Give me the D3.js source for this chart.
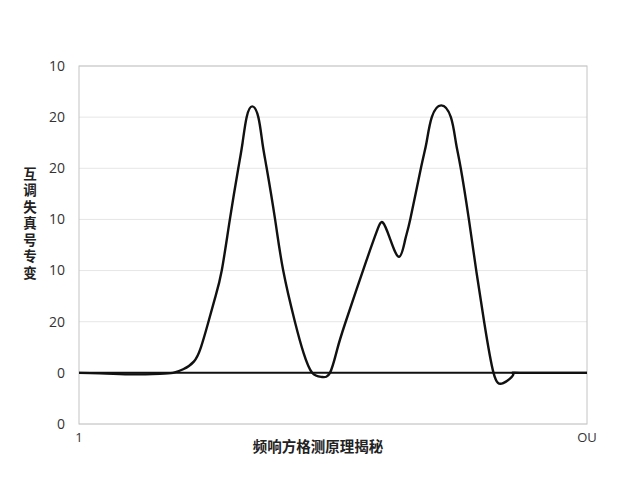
<!DOCTYPE html>
<html>
<head>
<meta charset="utf-8">
<script src="https://cdn.jsdelivr.net/npm/d3@7"></script>
<style>
  body { margin: 0; background: #fff; }
  svg { display: block; }
</style>
</head>
<body>
<div id="chart"></div>
<script>
// tick labels as printed in the reference (bottom to top)
const yTickValues = [-1, 0, 1, 2, 3, 4, 5, 6];
const yTickLabels = ["0", "0", "20", "10", "10", "20", "20", "10"];
const xTickValues = [0, 100];
const xTickLabels = ["1", "OU"];
const xTitle = "频响方格测原理揭秘";
const yTitle = "互调失真号专变";

// curve
const xs = [0, 4.1, 10, 15.9, 18.5, 20.5, 22.6, 24.0, 25.4, 26.8, 28.1, 29.7, 31.36, 32.2, 33.0, 34.1, 35.3, 36.1,
            36.95, 38.6, 40.2, 42.5, 44.2, 45.9, 47.8, 49.4, 50.8, 52.4, 55.9, 58.6, 59.8, 61.2, 63.0, 64.2, 65.2, 67.3, 68.4,
            69.45, 71.3, 73.2, 74.2, 75.15, 76.75, 78.2, 79.75, 81.6, 83.5, 85.5, 86.8, 100];
const ys = [0, -0.01, -0.03, -0.02, 0, 0.07, 0.22, 0.5, 0.97, 1.47, 2.0, 3.0, 4.0, 4.5, 5.0, 5.21, 5.0, 4.5,
            4.0, 3.0, 2.0, 1.0, 0.39, 0, -0.08, 0, 0.45, 0.97, 2.0, 2.76, 2.94, 2.63, 2.27, 2.6, 3.0, 4.0, 4.5,
            5.0, 5.23, 5.0, 4.5, 4.0, 3.0, 2.0, 1.0, 0, -0.2, -0.03, 0, 0];

const width = 640, height = 480;
const margin = { top: 66, right: 53, bottom: 56, left: 79 };

const svg = d3.select("#chart").append("svg")
  .attr("width", width).attr("height", height);

const x = d3.scaleLinear().domain([0, 100]).range([margin.left, width - margin.right]);
const y = d3.scaleLinear().domain([-1, 6]).range([height - margin.bottom, margin.top]);

// gridlines
svg.append("g")
  .selectAll("line")
  .data(yTickValues)
  .join("line")
  .attr("x1", x(0)).attr("x2", x(100))
  .attr("y1", d => y(d)).attr("y2", d => y(d))
  .attr("stroke", "#e6e6e6").attr("stroke-width", 1);

// frame
svg.append("rect")
  .attr("x", x(0)).attr("y", y(6))
  .attr("width", x(100) - x(0)).attr("height", y(-1) - y(6))
  .attr("fill", "none").attr("stroke", "#c4c4c4").attr("stroke-width", 1);

// y ticks
svg.append("g")
  .selectAll("text")
  .data(yTickValues)
  .join("text")
  .attr("x", x(0) - 14)
  .attr("y", d => y(d))
  .attr("dy", "0.35em")
  .attr("text-anchor", "end")
  .attr("font-family", "'Open Sans', 'Noto Sans', sans-serif")
  .attr("font-size", 14)
  .attr("fill", "#333")
  .text((d, i) => yTickLabels[i]);

// x ticks
svg.append("g")
  .selectAll("text")
  .data(xTickValues)
  .join("text")
  .attr("x", d => x(d))
  .attr("y", y(-1) + 18)
  .attr("text-anchor", "middle")
  .attr("font-family", "'Open Sans', 'Noto Sans', sans-serif")
  .attr("font-size", 13)
  .attr("fill", "#333")
  .text((d, i) => xTickLabels[i]);

// zero line
svg.append("line")
  .attr("x1", x(0)).attr("x2", x(100))
  .attr("y1", y(0)).attr("y2", y(0))
  .attr("stroke", "#111").attr("stroke-width", 2);

// curve
const pts = xs.map((v, i) => [v, ys[i]]);
svg.append("path")
  .datum(pts)
  .attr("fill", "none")
  .attr("stroke", "#111")
  .attr("stroke-width", 2.4)
  .attr("stroke-linejoin", "round")
  .attr("d", d3.line().x(d => x(d[0])).y(d => y(d[1])).curve(d3.curveNatural));

// x title
svg.append("text")
  .attr("x", 318).attr("y", 452)
  .attr("text-anchor", "middle")
  .attr("font-family", "'Noto Sans CJK SC', sans-serif")
  .attr("font-size", 14.5)
  .attr("font-weight", "bold")
  .attr("fill", "#222")
  .text(xTitle);

// y title, vertical
svg.append("text")
  .attr("x", 30)
  .attr("y", 167)
  .style("writing-mode", "vertical-rl")
  .style("text-orientation", "upright")
  .style("letter-spacing", "3px")
  .attr("font-family", "'Noto Sans CJK SC', sans-serif")
  .attr("font-size", 13.5)
  .attr("font-weight", "bold")
  .attr("fill", "#222")
  .text(yTitle);
</script>
</body>
</html>
